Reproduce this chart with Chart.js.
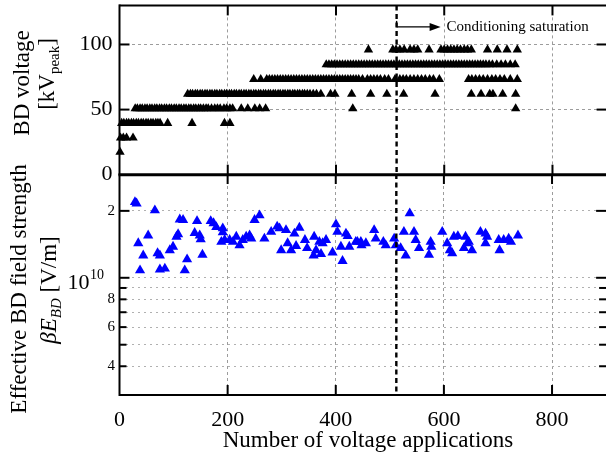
<!DOCTYPE html>
<html>
<head>
<meta charset="utf-8">
<script src="https://cdn.jsdelivr.net/npm/chart.js@4/dist/chart.umd.min.js"></script>
<style>
  html, body { margin: 0; padding: 0; background: #fff; overflow: hidden; }
  #wrap { position: relative; width: 606px; height: 466px; overflow: hidden; background: #fff; }
  #wrap canvas { position: absolute; left: 0; top: 0; }
</style>
</head>
<body>
<div id="wrap">
  <canvas id="bdChart" width="612" height="466"></canvas>
  <canvas id="fieldChart" width="612" height="466"></canvas>
</div>
<script>
// breakdown voltage steps [kV peak]
const bdLevels = [17.3, 28.3, 39.5, 50.8, 61.9, 73.2, 84.5, 96];

// shot numbers that broke down at each voltage step
const shotsL1 = [1];
const shotsL2 = [2, 7, 13, 25];
const shotsL3 = [4, 8, 13, 17, 22, 26, 31, 35, 40, 44, 49, 53, 58, 62, 67, 71, 75, 89, 134, 194, 204];
const shotsL4 = [29, 33, 38, 42, 47, 51, 56, 60, 65, 69, 74, 78, 83, 87, 92, 96, 101, 105, 110, 114, 119,
  123, 128, 132, 137, 141, 146, 150, 155, 160, 164, 170, 176, 181, 186, 193, 198, 204, 209, 225, 237,
  250, 259, 270, 431, 732];
const shotsL5 = [126, 131, 135, 140, 144, 149, 153, 158, 162, 167, 171, 176, 180, 185, 189, 194, 198,
  203, 207, 212, 216, 221, 225, 230, 234, 239, 243, 248, 252, 257, 261, 266, 270, 275, 279, 284, 288,
  293, 297, 302, 306, 311, 315, 320, 324, 329, 333, 338, 342, 347, 352, 358, 364, 372, 390, 398, 429,
  464, 494, 525, 583, 650, 668, 684, 690, 708, 732];
const shotsL6 = [248, 261, 272, 277, 282, 287, 292, 297, 302, 307, 312, 317, 322, 327, 332, 337, 342,
  347, 352, 357, 362, 367, 372, 377, 382, 387, 392, 397, 402, 407, 412, 417, 422, 427, 432, 437, 442,
  449, 458, 464, 470, 476, 482, 490, 497, 509, 518, 524, 530, 537, 544, 551, 558, 565, 573, 580, 591,
  645, 651, 658, 665, 672, 680, 688, 695, 703, 711, 722, 735];
const shotsL7 = [382, 387, 392, 397, 402, 407, 412, 417, 422, 427, 432, 437, 442, 447, 452, 457, 462,
  467, 472, 477, 482, 487, 492, 497, 502, 507, 512, 517, 522, 527, 532, 537, 542, 547, 552, 557, 562,
  567, 572, 577, 582, 587, 592, 597, 602, 607, 612, 617, 622, 627, 632, 637, 642, 647, 652, 657, 662,
  667, 672, 677, 683, 689, 697, 705, 713, 722, 731];
const shotsL8 = [460, 505, 511, 518, 526, 537, 544, 551, 572, 594, 600, 606, 612, 618, 624, 630, 637,
  643, 650, 680, 698, 716, 735];
const shotsByLevel = [shotsL1, shotsL2, shotsL3, shotsL4, shotsL5, shotsL6, shotsL7, shotsL8];

// effective breakdown field beta*E_BD [V/m] and the shot it belongs to
const fieldShots = [28.6, 31.6, 34.7, 38, 43.9, 53, 65.4, 70.4, 74.7, 74.7, 83.9, 93, 99, 105.4, 108.4,
  111.5, 117.6, 120.7, 125, 139, 143.4, 148.4, 150.2, 153.4, 168.7, 174, 179, 188.4, 191, 191, 194.5,
  203.7, 209.8, 216, 222, 228, 234.3, 240.6, 243.7, 249.8, 259, 268, 280.5, 291.6, 296, 299, 308, 311,
  317.4, 323.5, 326.6, 332.7, 343, 347, 359, 360, 363.5, 369.6, 372.7, 375.7, 382, 394, 400.4, 403,
  409.5, 412.5, 418.8, 422, 425, 437, 440, 446.4, 447.6, 455.7, 471, 474, 488, 492.5, 508, 511, 520,
  526, 529.4, 536.8, 544.7, 547.8, 554, 572.4, 575.5, 576.7, 596.9, 606, 611, 615.3, 618.4, 625.8, 637,
  640, 643, 646, 652, 667.6, 677, 677, 679.8, 701.4, 703, 710.6, 719.8, 724, 737];
const fieldValues = [2.19e10, 2.16e10, 1.43e10, 1.08e10, 1.26e10, 1.55e10, 2.01e10, 1.29e10, 1.26e10,
  1.09e10, 1.10e10, 1.33e10, 1.38e10, 1.53e10, 1.57e10, 1.83e10, 1.82e10, 1.08e10, 1.21e10, 1.59e10,
  1.80e10, 1.55e10, 1.49e10, 1.27e10, 1.80e10, 1.76e10, 1.69e10, 1.45e10, 1.67e10, 1.60e10, 1.48e10,
  1.48e10, 1.45e10, 1.53e10, 1.40e10, 1.48e10, 1.53e10, 1.55e10, 1.50e10, 1.82e10, 1.91e10, 1.50e10,
  1.61e10, 1.70e10, 1.67e10, 1.33e10, 1.64e10, 1.43e10, 1.33e10, 1.58e10, 1.39e10, 1.68e10, 1.48e10,
  1.36e10, 1.26e10, 1.53e10, 1.33e10, 1.45e10, 1.28e10, 1.43e10, 1.48e10, 1.30e10, 1.74e10, 1.61e10,
  1.38e10, 1.19e10, 1.58e10, 1.54e10, 1.38e10, 1.45e10, 1.45e10, 1.45e10, 1.40e10, 1.43e10, 1.64e10,
  1.50e10, 1.45e10, 1.40e10, 1.50e10, 1.40e10, 1.36e10, 1.61e10, 1.26e10, 1.95e10, 1.61e10, 1.48e10,
  1.36e10, 1.27e10, 1.45e10, 1.38e10, 1.61e10, 1.43e10, 1.33e10, 1.29e10, 1.53e10, 1.54e10, 1.36e10,
  1.53e10, 1.43e10, 1.45e10, 1.33e10, 1.61e10, 1.58e10, 1.43e10, 1.53e10, 1.48e10, 1.33e10, 1.48e10,
  1.50e10, 1.45e10, 1.55e10];

// axis ticks
const shotTicks = [0, 200, 400, 600, 800];
const voltTicks = [0, 50, 100];
const fieldTicks = [4e9, 5e9, 6e9, 7e9, 8e9, 9e9, 1e10, 2e10];
const fieldLabels = ['4', '', '6', '', '8', '', '', '2'];
const fieldMajor = [1e10, 2e10];

// start of conditioning saturation
const saturationShot = 512;

const serif = '"Liberation Serif", "Times New Roman", serif';
const PLOT_LEFT = 119.5;
const PLOT_RIGHT_PAD = 4.5;

function seg(ctx, x1, y1, x2, y2) {
  ctx.beginPath(); ctx.moveTo(x1, y1); ctx.lineTo(x2, y2); ctx.stroke();
}

// text rotated 90deg ccw, made of runs (font + baseline shift), centred on (x, y)
function rotatedText(ctx, x, y, runs) {
  ctx.save();
  ctx.translate(x, y);
  ctx.rotate(-Math.PI / 2);
  ctx.textBaseline = 'middle';
  ctx.textAlign = 'left';
  ctx.fillStyle = '#000';
  let total = 0;
  runs.forEach(r => { ctx.font = r.font; r.w = ctx.measureText(r.text).width; total += r.w; });
  let cx = -total / 2;
  runs.forEach(r => { ctx.font = r.font; ctx.fillText(r.text, cx, r.dy || 0); cx += r.w; });
  ctx.restore();
}

function saturationLine(ctx, chart) {
  const a = chart.chartArea;
  const sx = chart.scales.x.getPixelForValue(saturationShot);
  ctx.save();
  ctx.strokeStyle = '#000';
  ctx.lineWidth = 2.4;
  ctx.setLineDash([5, 3.5]);
  seg(ctx, sx, a.top, sx, a.bottom);
  ctx.restore();
  return sx;
}

function shotTickMarks(ctx, chart) {
  const a = chart.chartArea, x = chart.scales.x;
  shotTicks.forEach(v => {
    if (v === 0) return;
    const px = x.getPixelForValue(v);
    seg(ctx, px, a.top, px, a.top + 10);
    seg(ctx, px, a.bottom - 10, px, a.bottom);
  });
}

// keep the plot areas where they are, whatever the tick labels need
function fixY(s) { s.width = PLOT_LEFT; s.paddingTop = 0; s.paddingBottom = 0; }
function fixX(h) { return s => { s.height = h; s.paddingLeft = 0; s.paddingRight = 0; }; }

const bdFrame = {
  id: 'bdFrame',
  afterDatasetsDraw(chart) {
    const {ctx, chartArea: a, scales: {y}} = chart;
    const sx = saturationLine(ctx, chart);
    ctx.save();
    ctx.strokeStyle = '#000';
    ctx.lineWidth = 2;
    seg(ctx, a.left, a.top, a.right, a.top);
    seg(ctx, a.left, a.top - 1, a.left, a.bottom);
    shotTickMarks(ctx, chart);
    voltTicks.forEach(v => {
      if (v === 0) return;
      const py = y.getPixelForValue(v);
      seg(ctx, a.left, py, a.left + 10, py);
      seg(ctx, a.right - 10, py, a.right, py);
    });
    ctx.lineWidth = 3;
    seg(ctx, a.left - 1, a.bottom, a.right, a.bottom);

    // arrow marking the saturated region
    const ay = y.getPixelForValue(113.5);
    ctx.lineWidth = 1.4;
    seg(ctx, sx, ay - 6, sx, ay);
    seg(ctx, sx, ay, sx + 34, ay);
    ctx.fillStyle = '#000';
    ctx.beginPath();
    ctx.moveTo(sx + 44, ay);
    ctx.lineTo(sx + 33, ay - 4);
    ctx.lineTo(sx + 33, ay + 4);
    ctx.closePath();
    ctx.fill();
    ctx.font = '15px ' + serif;
    ctx.textAlign = 'left';
    ctx.textBaseline = 'alphabetic';
    ctx.fillText('Conditioning saturation', sx + 50, ay + 4.5);
    ctx.restore();

    rotatedText(ctx, 22.5, 83, [{text: 'BD voltage', font: '23px ' + serif}]);
    rotatedText(ctx, 48, 74, [
      {text: '[kV', font: '23px ' + serif},
      {text: 'peak', font: '15px ' + serif, dy: 7},
      {text: ']', font: '23px ' + serif}
    ]);
  }
};

const fieldFrame = {
  id: 'fieldFrame',
  afterDatasetsDraw(chart) {
    const {ctx, chartArea: a, scales: {y}} = chart;
    saturationLine(ctx, chart);
    ctx.save();
    ctx.strokeStyle = '#000';
    ctx.lineWidth = 2;
    seg(ctx, a.left, a.top, a.left, a.bottom + 1);
    seg(ctx, a.left, a.bottom, a.right, a.bottom);
    shotTickMarks(ctx, chart);
    fieldTicks.forEach(v => {
      const py = y.getPixelForValue(v);
      const len = fieldMajor.includes(v) ? 10 : 7;
      seg(ctx, a.left, py, a.left + len, py);
      seg(ctx, a.right - len, py, a.right, py);
    });

    // 10^10 tick label
    const py = y.getPixelForValue(1e10);
    ctx.fillStyle = '#000';
    ctx.textBaseline = 'middle';
    ctx.textAlign = 'right';
    ctx.font = '22px ' + serif;
    ctx.fillText('10', 89.5, py + 5);
    ctx.textAlign = 'left';
    ctx.font = '14px ' + serif;
    ctx.fillText('10', 90, py - 2);

    ctx.font = '23px ' + serif;
    ctx.textAlign = 'center';
    ctx.textBaseline = 'middle';
    ctx.fillText('Number of voltage applications', 368, 441);
    ctx.restore();

    rotatedText(ctx, 20, 289, [{text: 'Effective BD field strength', font: '23px ' + serif}]);
    rotatedText(ctx, 50, 290, [
      {text: '\u03B2E', font: 'italic 23px ' + serif},
      {text: 'BD', font: 'italic 15px ' + serif, dy: 7},
      {text: ' [V/m]', font: '23px ' + serif}
    ]);
  }
};

const bdPoints = [];
bdLevels.forEach((v, i) => shotsByLevel[i].forEach(s => bdPoints.push({x: s, y: v})));

new Chart(document.getElementById('bdChart'), {
  type: 'scatter',
  data: {
    datasets: [{
      data: bdPoints,
      pointStyle: 'triangle',
      pointRadius: 5.4,
      backgroundColor: '#000',
      borderWidth: 0,
      clip: false
    }]
  },
  options: {
    responsive: false,
    animation: false,
    devicePixelRatio: 1,
    layout: {padding: {left: 0, right: PLOT_RIGHT_PAD, top: 4, bottom: 291.3}},
    plugins: {legend: {display: false}, tooltip: {enabled: false}},
    scales: {
      x: {
        type: 'linear', min: 0, max: 900,
        afterBuildTicks: s => { s.ticks = shotTicks.map(v => ({value: v})); },
        ticks: {display: false},
        grid: {color: '#9c9c9c', lineWidth: 1, drawTicks: false},
        border: {display: false, dash: [3, 3]},
        afterFit: fixX(0)
      },
      y: {
        type: 'linear', min: 0, max: 130,
        afterBuildTicks: s => { s.ticks = voltTicks.map(v => ({value: v})); },
        ticks: {color: '#000', padding: 7, font: {family: serif, size: 22}},
        grid: {color: '#9c9c9c', lineWidth: 1, drawTicks: false},
        border: {display: false, dash: [3, 3]},
        afterFit: fixY
      }
    }
  },
  plugins: [bdFrame]
});

new Chart(document.getElementById('fieldChart'), {
  type: 'scatter',
  data: {
    datasets: [{
      data: fieldShots.map((s, i) => ({x: s, y: fieldValues[i]})),
      pointStyle: 'triangle',
      pointRadius: 5.9,
      backgroundColor: '#0000ff',
      borderWidth: 0,
      clip: false
    }]
  },
  options: {
    responsive: false,
    animation: false,
    devicePixelRatio: 1,
    layout: {padding: {left: 0, right: PLOT_RIGHT_PAD, top: 174, bottom: 0}},
    plugins: {legend: {display: false}, tooltip: {enabled: false}},
    scales: {
      x: {
        type: 'linear', min: 0, max: 900,
        afterBuildTicks: s => { s.ticks = shotTicks.map(v => ({value: v})); },
        ticks: {color: '#000', padding: 12, maxRotation: 0, font: {family: serif, size: 22}},
        grid: {color: '#9c9c9c', lineWidth: 1, drawTicks: false},
        border: {display: false, dash: [3, 3]},
        afterFit: fixX(71)
      },
      y: {
        type: 'logarithmic', min: 2.97e9, max: 2.93e10,
        afterBuildTicks: s => { s.ticks = fieldTicks.map(v => ({value: v})); },
        ticks: {
          color: '#000', padding: 4.5, font: {family: serif, size: 15},
          callback: (v, i) => fieldLabels[i]
        },
        grid: {color: '#b0b0b0', lineWidth: 1, drawTicks: false},
        border: {display: false, dash: [2, 4]},
        afterFit: fixY
      }
    }
  },
  plugins: [fieldFrame]
});
</script>
</body>
</html>
